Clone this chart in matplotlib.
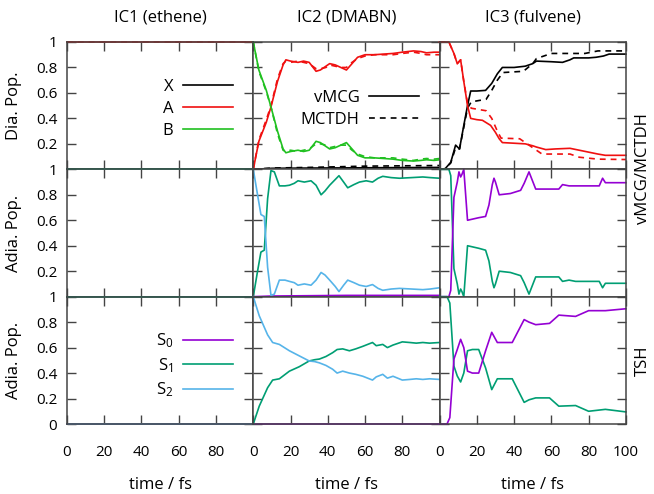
import numpy as np
import matplotlib
matplotlib.use("Agg")
import matplotlib.pyplot as plt
from matplotlib.lines import Line2D

plt.rcParams['font.family'] = ['Open Sans', 'DejaVu Sans']
plt.rcParams['mathtext.fontset'] = 'custom'
plt.rcParams['mathtext.rm'] = 'Open Sans'
plt.rcParams['mathtext.it'] = 'Open Sans:italic'

# colours (gnuplot-like)
c_x, c_a, c_b = 'black', '#f01010', '#20c020'
c_s0, c_s1, c_s2 = '#9400d3', '#009e73', '#56b4e9'
frame_col = '#444444'

col_titles = ['IC1 (ethene)', 'IC2 (DMABN)', 'IC3 (fulvene)']
row_ylabels = ['Dia. Pop.', 'Adia. Pop.', 'Adia. Pop.']

# ---- IC1 (ethene): populations stay constant
t_ic1 = [0, 100]
x_ic1 = [0, 0]
a_ic1 = [1, 1]
b_ic1 = [0, 0]
s0_ic1 = [0, 0]
s1_ic1 = [1, 1]
s2_ic1 = [0, 0]

# ---- IC2 (DMABN) diabatic, vMCG / MCTDH
t_ic2_dia = [0, 3, 7, 9.5, 13, 16, 17.5, 20, 24, 27, 30, 33.7, 36, 39, 41, 44, 47, 50,
             53, 56, 60, 65, 70, 75, 80, 86, 90, 93, 97, 100]
a_ic2_vmcg = [0, .22, .37, .49, .69, .82, .86, .85, .84, .85, .84, .77, .78, .81, .83, .82, .80, .78,
              .83, .88, .90, .90, .905, .91, .92, .93, .925, .915, .92, .92]
b_ic2_vmcg = [1, .78, .62, .49, .30, .16, .13, .14, .15, .14, .15, .22, .21, .18, .16, .17, .19, .21,
              .16, .11, .09, .09, .085, .08, .07, .065, .07, .075, .07, .075]
a_ic2_mctdh = [0, .23, .39, .50, .71, .83, .85, .84, .85, .84, .83, .79, .79, .80, .82, .81, .80, .80,
               .84, .87, .89, .90, .90, .90, .91, .92, .91, .90, .90, .90]
b_ic2_mctdh = [1, .77, .61, .49, .28, .15, .14, .15, .14, .15, .16, .20, .20, .19, .17, .18, .19, .19,
               .15, .12, .10, .09, .09, .09, .08, .07, .08, .085, .08, .085]
t_ic2_x = [0, 10, 30, 60, 100]
x_ic2_vmcg = [0, .008, .01, .012, .015]
x_ic2_mctdh = [0, .01, .015, .025, .03]

# ---- IC3 (fulvene) diabatic
t_ic3_x = [0, 3, 6, 8.6, 10.7, 13, 15, 16.7, 20, 24.7, 28, 31, 33.7, 40, 46, 50, 52, 60, 66, 70,
           72, 80, 84, 88, 91, 100]
x_ic3_vmcg = [0, .005, .055, .19, .16, .345, .50, .615, .615, .62, .675, .75, .80, .80, .81, .83,
              .85, .845, .84, .86, .875, .875, .88, .89, .905, .905]
t_ic3_a = [0, 5, 7.7, 9.5, 11.3, 13, 15, 16.7, 20, 23, 27.4, 30, 32, 33.7, 40, 46, 50, 52, 57, 62,
           70, 75, 80, 85, 89, 100]
a_ic3_vmcg = [1, 1, .91, .83, .86, .69, .50, .40, .39, .385, .345, .29, .24, .21, .205, .20, .185,
              .175, .155, .16, .165, .15, .135, .12, .11, .11]
t_ic3_x_m = [0, 3, 6, 8.6, 10.7, 13, 15, 17, 25, 28, 31, 34, 45, 50, 52, 60, 78, 85, 100]
x_ic3_mctdh = [0, .005, .05, .17, .16, .33, .48, .53, .55, .62, .70, .76, .77, .83, .87, .91, .91,
               .93, .93]
t_ic3_a_m = [0, 5, 7.7, 9.5, 11.3, 13, 15, 17, 25, 28, 31, 33, 43, 48, 55, 70, 75, 85, 100]
a_ic3_mctdh = [1, 1, .91, .83, .86, .69, .52, .48, .46, .40, .30, .245, .24, .19, .12, .12, .095,
               .08, .077]

# ---- IC2 adiabatic, vMCG
t_ic2_ad = [0, 2.3, 4.1, 5.9, 7.7, 9.5, 11.3, 14, 17, 19.4, 22, 24, 27.4, 31, 33.7, 36.4, 38.5,
            41, 44, 46, 48.5, 50.7, 54, 57, 60.6, 64, 67, 69.5, 74, 78.5, 85, 91, 95, 100]
s1_ic2_vmcg = [0, .20, .35, .365, .77, .99, .98, .87, .87, .875, .89, .91, .90, .91, .875, .80,
               .83, .875, .92, .95, .90, .855, .88, .90, .91, .90, .93, .945, .935, .93, .935,
               .94, .935, .93]
s2_ic2_vmcg = [1, .80, .645, .63, .23, .01, .02, .13, .13, .12, .11, .09, .10, .09, .13, .19,
               .17, .13, .08, .04, .09, .13, .11, .09, .08, .095, .065, .05, .06, .065, .06,
               .055, .06, .07]
t_ic2_s0 = [0, 10, 50, 100]
s0_ic2_vmcg = [0, .005, .01, .01]

# ---- IC3 adiabatic, vMCG
t_ic3_ad = [0, 5, 6, 7.7, 9.5, 10.4, 11.3, 12, 13, 15, 18, 21, 24.7, 26.5, 28.3, 29.2, 30, 32,
            38, 43.5, 45.4, 48, 51.6, 58, 64, 66, 69.5, 73, 80, 85.7, 87.5, 89, 95, 100]
s0_ic3_vmcg = [0, 0, .05, .78, .90, .98, .94, .96, 1.0, .60, .61, .62, .63, .72, .88, .93, .90,
               .80, .81, .835, .89, .98, .845, .845, .845, .88, .87, .87, .87, .87, .93, .895,
               .895, .895]
s1_ic3_vmcg = [1, 1, .95, .22, .10, .02, .06, .04, 0, .40, .39, .38, .365, .28, .12, .07, .10,
               .20, .19, .165, .11, .02, .155, .155, .155, .12, .13, .12, .12, .12, .07, .105,
               .105, .105]

# ---- IC2 TSH
t_ic2_tsh = [0, 3.2, 7.7, 10.4, 14, 19.4, 24.7, 30, 33, 35.5, 39, 42.6, 45, 48, 51.6, 55, 58.8,
             64, 66, 69.5, 72, 75, 80, 84, 87.5, 91, 94.6, 100]
s2_ic2_tsh = [1, .85, .70, .64, .625, .575, .535, .495, .49, .48, .46, .43, .40, .415, .40, .39,
              .375, .345, .37, .39, .36, .375, .345, .35, .355, .35, .355, .35]
s1_ic2_tsh = [0, .14, .285, .345, .355, .415, .45, .495, .505, .51, .53, .56, .585, .59, .575,
              .59, .61, .64, .615, .625, .60, .62, .645, .64, .635, .64, .635, .64]
s0_ic2_tsh = [0, 0]

# ---- IC3 TSH
t_ic3_tsh = [0, 4, 5.5, 7.7, 9.5, 11.3, 13, 15, 17.6, 21, 24.7, 28, 31, 39, 45.4, 48, 51.6, 59,
             64, 73, 80, 89, 100]
s0_ic3_tsh = [0, 0, .05, .51, .585, .665, .60, .415, .40, .40, .575, .72, .64, .64, .82, .80, .78,
              .79, .855, .845, .89, .89, .905]
s1_ic3_tsh = [1, 1, .95, .455, .377, .33, .40, .575, .585, .585, .44, .27, .355, .355, .17, .19,
              .205, .205, .14, .145, .10, .115, .095]

lw = 1.2
dash = (0, (3.5, 3))
fs_text = 12
fs_tick = 11

fig = plt.figure(figsize=(6.54, 4.94), dpi=100)
gs = fig.add_gridspec(3, 3, left=0.1024, right=0.957, top=0.915, bottom=0.1417,
                      wspace=0, hspace=0)
axes = [[fig.add_subplot(gs[r, c]) for c in range(3)] for r in range(3)]

def line(ax, t, y, color, ls='-'):
    return ax.plot(t, y, color=color, lw=lw, ls=ls, clip_on=False)[0]

def key(ax, handles, labels, anchor):
    ax.legend(handles, labels, markerfirst=False, frameon=False, loc='upper right',
              bbox_to_anchor=anchor, borderaxespad=0, borderpad=0, handlelength=3,
              handletextpad=0.6, labelspacing=0.35, fontsize=fs_text)

# row 1: diabatic populations (vMCG solid, MCTDH dashed)
ax = axes[0][0]
line(ax, t_ic1, x_ic1, c_x, dash)
line(ax, t_ic1, a_ic1, c_a, dash)
line(ax, t_ic1, b_ic1, c_b, dash)
hx = line(ax, t_ic1, x_ic1, c_x)
ha = line(ax, t_ic1, a_ic1, c_a)
hb = line(ax, t_ic1, b_ic1, c_b)
key(ax, [hx, ha, hb], ['X', 'A', 'B'], (0.893, 0.71))

ax = axes[0][1]
line(ax, t_ic2_x, x_ic2_mctdh, c_x, dash)
line(ax, t_ic2_dia, a_ic2_mctdh, c_a, dash)
line(ax, t_ic2_dia, b_ic2_mctdh, c_b, dash)
line(ax, t_ic2_x, x_ic2_vmcg, c_x)
line(ax, t_ic2_dia, a_ic2_vmcg, c_a)
line(ax, t_ic2_dia, b_ic2_vmcg, c_b)
proxies = [Line2D([], [], color='black', lw=lw), Line2D([], [], color='black', lw=lw, ls=dash)]
key(ax, proxies, ['vMCG', 'MCTDH'], (0.892, 0.625))

ax = axes[0][2]
line(ax, t_ic3_x_m, x_ic3_mctdh, c_x, dash)
line(ax, t_ic3_a_m, a_ic3_mctdh, c_a, dash)
line(ax, t_ic3_x, x_ic3_vmcg, c_x)
line(ax, t_ic3_a, a_ic3_vmcg, c_a)

# row 2: adiabatic, vMCG
ax = axes[1][0]
line(ax, t_ic1, s0_ic1, c_s0)
line(ax, t_ic1, s1_ic1, c_s1)
line(ax, t_ic1, s2_ic1, c_s2)
ax = axes[1][1]
line(ax, t_ic2_s0, s0_ic2_vmcg, c_s0)
line(ax, t_ic2_ad, s1_ic2_vmcg, c_s1)
line(ax, t_ic2_ad, s2_ic2_vmcg, c_s2)
ax = axes[1][2]
line(ax, t_ic3_ad, s1_ic3_vmcg, c_s1)
line(ax, t_ic3_ad, s0_ic3_vmcg, c_s0)

# row 3: adiabatic, TSH
ax = axes[2][0]
h0 = line(ax, t_ic1, s0_ic1, c_s0)
h1 = line(ax, t_ic1, s1_ic1, c_s1)
h2 = line(ax, t_ic1, s2_ic1, c_s2)
key(ax, [h0, h1, h2], ['S$_0$', 'S$_1$', 'S$_2$'], (0.893, 0.725))
ax = axes[2][1]
line(ax, t_ic1, s0_ic2_tsh, c_s0)
line(ax, t_ic2_tsh, s1_ic2_tsh, c_s1)
line(ax, t_ic2_tsh, s2_ic2_tsh, c_s2)
ax = axes[2][2]
line(ax, t_ic3_tsh, s1_ic3_tsh, c_s1)
line(ax, t_ic3_tsh, s0_ic3_tsh, c_s0)

yt = [0, 0.2, 0.4, 0.6, 0.8, 1]
for r in range(3):
    for c in range(3):
        ax = axes[r][c]
        ax.set_xlim(0, 100)
        ax.set_ylim(0, 1)
        ax.set_xticks([0, 20, 40, 60, 80, 100])
        ax.set_yticks(yt)
        ax.tick_params(direction='in', length=6.5, width=1, color=frame_col, top=True,
                       right=True, labelsize=fs_tick)
        ax.tick_params(axis='x', pad=15)
        ax.tick_params(axis='y', pad=7)
        for s in ax.spines.values():
            s.set_color(frame_col)
            s.set_linewidth(1.1)
        if c == 0:
            labs = ['0' if r == 2 else '', '0.2', '0.4', '0.6', '0.8', '1']
            ax.set_yticklabels(labs)
            ax.set_ylabel(row_ylabels[r], fontsize=fs_text, labelpad=10)
        else:
            ax.set_yticklabels([])
        if r == 2:
            labs = ['0', '20', '40', '60', '80', '100' if c == 2 else '']
            ax.set_xticklabels(labs)
            ax.set_xlabel('time / fs', fontsize=fs_text, labelpad=12)
        else:
            ax.set_xticklabels([])
        if r == 0:
            ax.set_title(col_titles[c], fontsize=fs_text, pad=15)

fig.text(0.983, 1 - 169 / 494, 'vMCG/MCTDH', rotation=90, ha='center', va='center',
         fontsize=fs_text)
fig.text(0.983, 1 - 360.5 / 494, 'TSH', rotation=90, ha='center', va='center', fontsize=fs_text)

fig.savefig('out.png', dpi=100)
